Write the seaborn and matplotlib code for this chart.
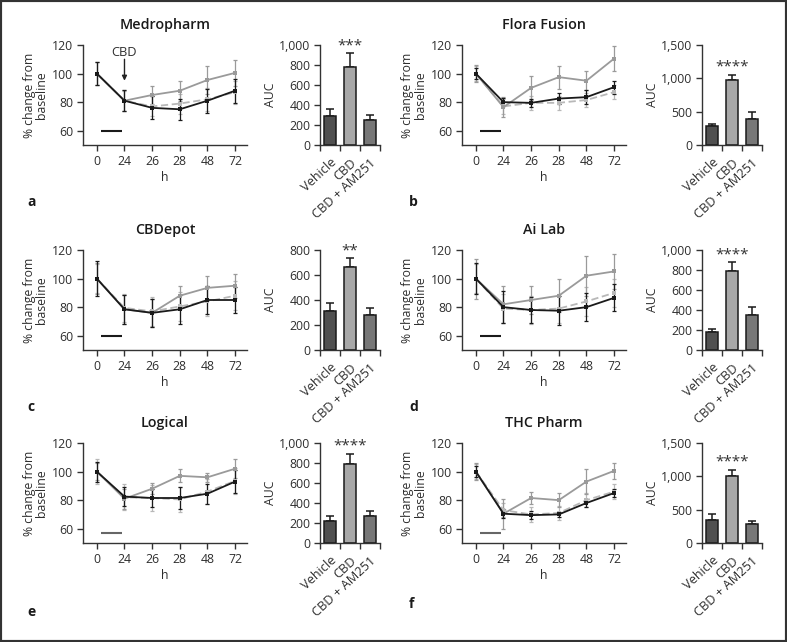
import numpy as np
import pandas as pd
import matplotlib
matplotlib.use('Agg')
import matplotlib.pyplot as plt
import seaborn as sns
from matplotlib.patches import Rectangle
from matplotlib.ticker import FuncFormatter

# ---------------- data ----------------
hours = ['0', '24', '26', '28', '48', '72']
groups = ['Vehicle', 'CBD', 'CBD + AM251']
titles = ['Medropharm', 'Flora Fusion', 'CBDepot', 'Ai Lab', 'Logical', 'THC Pharm']
letters = ['a', 'b', 'c', 'd', 'e', 'f']
stars = ['***', '****', '**', '****', '****', '****']
auc_ymax = [1000, 1500, 800, 1000, 1000, 1500]
auc_step = [200, 500, 200, 200, 200, 500]

# a: Medropharm
a_veh = [100, 81, 76, 75, 81, 88]
a_veh_err = [8, 7.5, 8, 7.5, 8.5, 8.5]
a_cbd = [100, 81, 85, 88, 95.5, 100.5]
a_cbd_err = [8, 7.5, 6, 7, 10, 9]
a_am = [100, 81, 77, 79, 82, 87]
a_am_err = [8, 7, 7, 7, 8, 8]
a_auc = [290, 785, 250]
a_auc_err = [70, 135, 50]

# b: Flora Fusion
b_veh = [100, 80, 79.5, 82.5, 83.5, 90.5]
b_veh_err = [4, 3, 3, 4, 5, 4.5]
b_cbd = [100, 76.5, 90, 97.5, 95, 110.5]
b_cbd_err = [6, 7, 8.5, 8, 6.5, 9]
b_am = [100, 77, 79.5, 79.5, 81.5, 87]
b_am_err = [5, 5, 5, 5, 5, 5]
b_auc = [290, 970, 390]
b_auc_err = [30, 80, 105]

# c: CBDepot
c_veh = [100, 78.5, 76, 78.5, 85, 85]
c_veh_err = [12, 10, 10, 10, 10, 9]
c_cbd = [100, 78.5, 76, 88, 93.5, 95]
c_cbd_err = [11, 10, 10, 7, 8, 8.5]
c_am = [100, 79.5, 77, 80.5, 84, 88]
c_am_err = [10, 10, 10, 10, 10, 10]
c_auc = [315, 665, 280]
c_auc_err = [60, 70, 57]

# d: Ai Lab
d_veh = [100, 80, 78, 77.5, 80, 86.5]
d_veh_err = [11, 11, 9, 10, 10, 9.5]
d_cbd = [100, 82, 85, 88, 102, 105]
d_cbd_err = [14, 13, 10, 11.5, 14, 12.5]
d_am = [100, 79, 78, 79, 84, 90]
d_am_err = [10, 10, 10, 10, 10, 10]
d_auc = [175, 785, 345]
d_auc_err = [35, 95, 85]

# e: Logical
e_veh = [100, 82.5, 81.5, 81.5, 84.5, 93]
e_veh_err = [7, 6.5, 6.5, 7.5, 7, 8]
e_cbd = [100, 81, 88, 97, 96, 102]
e_cbd_err = [6, 7, 4, 4.5, 3, 6.5]
e_am = [100, 82, 81.5, 80.5, 86, 93.5]
e_am_err = [9, 9, 9, 9, 9, 9]
e_auc = [225, 795, 275]
e_auc_err = [50, 100, 45]

# f: THC Pharm
f_veh = [100, 70.5, 69.5, 70, 78, 85]
f_veh_err = [4, 3, 3, 2, 3, 3]
f_cbd = [100, 70.5, 81.5, 80, 93, 100.5]
f_cbd_err = [6, 10.5, 4.5, 5, 9, 5.5]
f_am = [100, 73, 70, 71, 80, 86]
f_am_err = [5, 5, 5, 5, 5, 5]
f_auc = [340, 1010, 285]
f_auc_err = [90, 90, 45]

# ---------------- style ----------------
sns.set_style('ticks')
plt.rcParams['font.family'] = ['Open Sans', 'DejaVu Sans']
TXT = '#2e2e2e'
FS = 8.8
plt.rcParams.update({
    'axes.edgecolor': '#333333', 'axes.linewidth': 1.0,
    'xtick.color': '#333333', 'ytick.color': '#333333',
    'xtick.labelcolor': TXT, 'ytick.labelcolor': TXT,
    'axes.labelcolor': TXT, 'text.color': TXT,
    'xtick.labelsize': FS, 'ytick.labelsize': FS,
    'axes.labelsize': FS,
    'xtick.major.size': 4, 'ytick.major.size': 4,
    'xtick.major.width': 1, 'ytick.major.width': 1,
    'xtick.major.pad': 3, 'ytick.major.pad': 3,
})

line_colors = {'Vehicle': '#1a1a1a', 'CBD': '#9a9a9a', 'CBD + AM251': '#b8b8b8'}
bar_colors = {'Vehicle': '#505050', 'CBD': '#a8a8a8', 'CBD + AM251': '#777777'}

panels = [
    (a_veh, a_veh_err, a_cbd, a_cbd_err, a_am, a_am_err, a_auc, a_auc_err),
    (b_veh, b_veh_err, b_cbd, b_cbd_err, b_am, b_am_err, b_auc, b_auc_err),
    (c_veh, c_veh_err, c_cbd, c_cbd_err, c_am, c_am_err, c_auc, c_auc_err),
    (d_veh, d_veh_err, d_cbd, d_cbd_err, d_am, d_am_err, d_auc, d_auc_err),
    (e_veh, e_veh_err, e_cbd, e_cbd_err, e_am, e_am_err, e_auc, e_auc_err),
    (f_veh, f_veh_err, f_cbd, f_cbd_err, f_am, f_am_err, f_auc, f_auc_err),
]

W, H = 787, 642
fig = plt.figure(figsize=(W / 100, H / 100), dpi=100)


def px_axes(x0, y0, x1, y1):
    return fig.add_axes([x0 / W, 1 - y1 / H, (x1 - x0) / W, (y1 - y0) / H])


col_line = [(83, 247), (462, 626)]
col_bar = [(320, 380), (702, 762)]
row_top = [45, 250, 443]
AX_H = 100
letter_pos = [(27, 202), (409, 202), (27, 407), (409, 407), (27, 612), (409, 604)]
star_y = [990, 1170, 790, 950, 975, 1215]
treat_y = [60, 60, 60, 60, 57, 57]
treat_col = ['#1a1a1a', '#1a1a1a', '#1a1a1a', '#1a1a1a', '#666666', '#666666']

for i, (veh, veh_e, cbd, cbd_e, am, am_e, auc, auc_e) in enumerate(panels):
    r, c = divmod(i, 2)
    y0 = row_top[r]
    lx0, lx1 = col_line[c]
    bx0, bx1 = col_bar[c]
    ax = px_axes(lx0, y0, lx1, y0 + AX_H)
    bx = px_axes(bx0, y0, bx1, y0 + AX_H)

    pos = np.arange(len(hours))
    series = {'Vehicle': (veh, veh_e), 'CBD': (cbd, cbd_e), 'CBD + AM251': (am, am_e)}
    df = pd.concat([pd.DataFrame({'pos': pos, 'value': v, 'group': g})
                    for g, (v, _) in series.items()], ignore_index=True)
    order = ['CBD + AM251', 'CBD', 'Vehicle']
    for g in order:
        v, e = series[g]
        ax.errorbar(pos, v, yerr=e, fmt='none', ecolor=line_colors[g],
                    elinewidth=0.9, capsize=1.5, capthick=0.9, zorder=2)
    sns.lineplot(data=df, x='pos', y='value', hue='group', style='group',
                 hue_order=order, style_order=order,
                 palette=line_colors,
                 dashes={'Vehicle': '', 'CBD': '', 'CBD + AM251': (4, 2)},
                 markers={'Vehicle': 's', 'CBD': 's', 'CBD + AM251': 's'},
                 markersize=3.2, markeredgewidth=0, linewidth=1.3,
                 legend=False, ax=ax, zorder=3)
    # treatment period bar
    ax.plot([0.15, 0.92], [treat_y[i]] * 2, color=treat_col[i], lw=1.5,
            solid_capstyle='butt')
    ax.set_xlim(-0.5, 5.43)
    ax.set_ylim(50, 120)
    ax.set_yticks([60, 80, 100, 120])
    ax.set_xticks(pos)
    ax.set_xticklabels(hours)
    ax.set_xlabel('h')
    ax.set_ylabel('% change from\nbaseline', linespacing=0.95)
    ax.yaxis.set_label_coords(-35 / (lx1 - lx0), 0.5)
    ax.xaxis.set_label_coords(0.5, -26 / AX_H)
    sns.despine(ax=ax)
    ax.text(0.5, 1 + 20 / AX_H, titles[i], transform=ax.transAxes,
            ha='center', va='center', fontsize=10.3, fontweight=600, color='#1a1a1a')
    if i == 0:
        ax.annotate('', xy=(1, 95), xytext=(1, 110),
                    arrowprops=dict(arrowstyle='-|>', color='#222222', lw=1.0,
                                    mutation_scale=7, shrinkA=0, shrinkB=0))
        ax.text(1, 114.5, 'CBD', ha='center', va='center', fontsize=9.3)

    # AUC bars
    bdf = pd.DataFrame({'group': groups, 'auc': auc})
    sns.barplot(data=bdf, x='group', y='auc', hue='group', order=groups,
                hue_order=groups, palette=bar_colors, edgecolor='#1a1a1a',
                linewidth=1.1, width=0.6, legend=False, ax=bx, zorder=2)
    bx.errorbar(np.arange(3), auc, yerr=[np.zeros(3), auc_e], fmt='none',
                ecolor='#1a1a1a', elinewidth=1.1, capsize=3, capthick=1.1, zorder=1)
    bx.set_xlim(-0.5, 2.5)
    bx.set_ylim(0, auc_ymax[i])
    bx.set_yticks(np.arange(0, auc_ymax[i] + 1, auc_step[i]))
    bx.yaxis.set_major_formatter(FuncFormatter(lambda v, p: f'{int(v):,}'))
    bx.set_xticks([0, 1, 2])
    bx.set_xticklabels(groups, rotation=43, ha='right', va='top',
                       rotation_mode='anchor', fontsize=9.2)
    bx.tick_params(axis='x', which='major', length=0, pad=8)
    bx.set_xticks([-0.5, 0.5, 1.5, 2.5], minor=True)
    bx.tick_params(axis='x', which='minor', length=4, width=1, color='#333333')
    bx.set_xlabel('')
    bx.set_ylabel('AUC')
    bx.yaxis.set_label_coords(-43 / (bx1 - bx0), 0.5)
    sns.despine(ax=bx)
    bx.text(1, star_y[i], stars[i], ha='center', va='center', fontsize=11,
            color='#333333', clip_on=False)

    lx, ly = letter_pos[i]
    fig.text(lx / W, 1 - ly / H, letters[i], ha='left', va='center',
             fontsize=10, fontweight='bold', color='#1a1a1a')

fig.patches.append(Rectangle((0, 0), 1, 1, transform=fig.transFigure,
                             fill=False, edgecolor='#333333', linewidth=3))

fig.savefig('out.png', dpi=100)
